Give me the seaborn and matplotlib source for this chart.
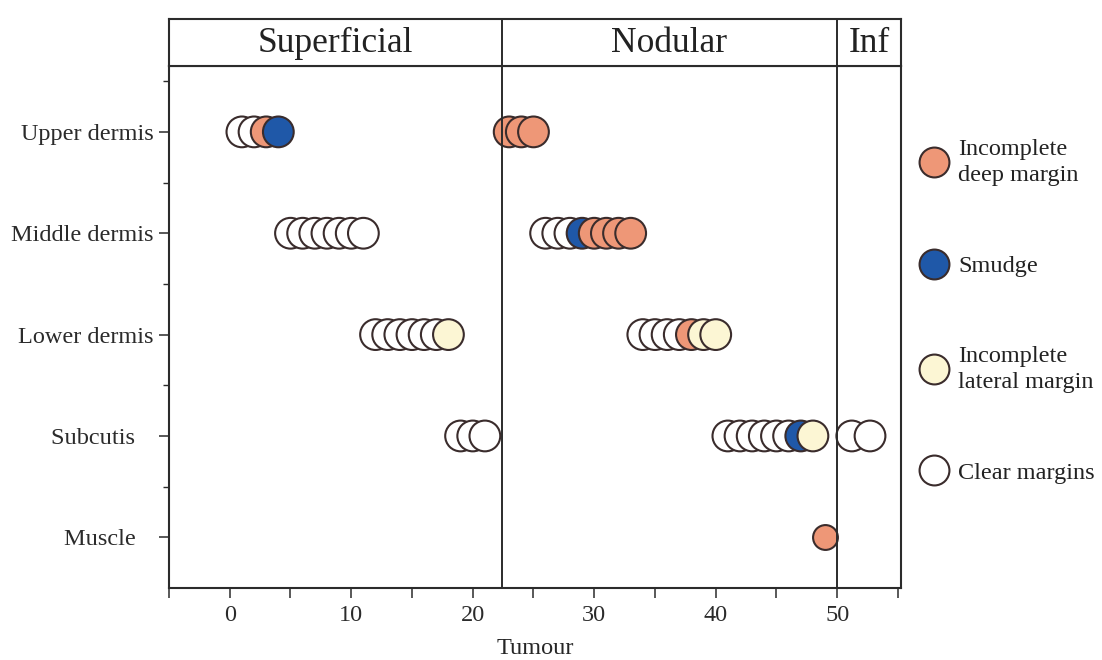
import matplotlib.pyplot as plt
import pandas as pd
import seaborn as sns
from matplotlib.lines import Line2D
from matplotlib.ticker import FixedLocator

# depth layers (top to bottom) and the y value each one gets
layers = ["Upper dermis", "Middle dermis", "Lower dermis", "Subcutis", "Muscle"]
layer_labels = ["Upper dermis", "Middle dermis", "Lower dermis", "Subcutis   ", "Muscle   "]
layer_y = [5, 4, 3, 2, 1]

# tumour index and margin status for every layer
upper_x = [1, 2, 3, 4, 23, 24, 25]
upper_status = ["clear", "clear", "deep", "smudge", "deep", "deep", "deep"]

middle_x = [5, 6, 7, 8, 9, 10, 11, 26, 27, 28, 29, 30, 31, 32, 33]
middle_status = ["clear"] * 7 + ["clear", "clear", "clear", "smudge", "deep", "deep", "deep", "deep"]

lower_x = [12, 13, 14, 15, 16, 17, 18, 34, 35, 36, 37, 38, 39, 40]
lower_status = ["clear"] * 6 + ["lateral"] + ["clear"] * 4 + ["deep", "lateral", "lateral"]

subcutis_x = [19, 20, 21, 41, 42, 43, 44, 45, 46, 47, 48, 51.2, 52.7]
subcutis_status = ["clear"] * 9 + ["smudge", "lateral", "clear", "clear"]

muscle_x = [49]
muscle_status = ["deep"]

# panels along the tumour axis
panel_names = ["Superficial", "Nodular", "Inf"]
panel_edges = [-5, 22.4, 50, 55.25]

status_order = ["deep", "smudge", "lateral", "clear"]
status_labels = ["Incomplete\ndeep margin", "Smudge", "Incomplete\nlateral margin", "Clear margins"]
status_colors = {"deep": "#EE9777", "smudge": "#1F58A8", "lateral": "#FCF6D4", "clear": "#FFFFFF"}

frames = []
for name, xs, st in [
    ("Upper dermis", upper_x, upper_status),
    ("Middle dermis", middle_x, middle_status),
    ("Lower dermis", lower_x, lower_status),
    ("Subcutis", subcutis_x, subcutis_status),
    ("Muscle", muscle_x, muscle_status),
]:
    frames.append(pd.DataFrame({"tumour": xs, "layer": name, "status": st}))
df = pd.concat(frames, ignore_index=True)
df["y"] = df["layer"].map(dict(zip(layers, layer_y)))
df = df.sort_values(["y", "tumour"]).reset_index(drop=True)

sns.set_style("ticks")
plt.rcParams["font.family"] = ["Liberation Serif", "DejaVu Serif"]
plt.rcParams["axes.edgecolor"] = "#2b2b2b"
plt.rcParams["xtick.color"] = "#2b2b2b"
plt.rcParams["ytick.color"] = "#2b2b2b"
plt.rcParams["text.color"] = "#222222"

fig = plt.figure(figsize=(11.02, 6.6), dpi=100)
ax = fig.add_axes([169 / 1102, 1 - 588 / 660, 732 / 1102, 522 / 660])
strip = fig.add_axes([169 / 1102, 1 - 66 / 660, 732 / 1102, 47 / 660])

big = df[df["layer"] != "Muscle"]
small = df[df["layer"] == "Muscle"]
sns.scatterplot(data=big, x="tumour", y="y", hue="status", palette=status_colors,
                s=490, edgecolor="#3a2c2c", linewidth=1.5, legend=False, ax=ax, zorder=3)
sns.scatterplot(data=small, x="tumour", y="y", hue="status", palette=status_colors,
                s=320, edgecolor="#3a2c2c", linewidth=1.5, legend=False, ax=ax, zorder=3)

ax.set_xlim(panel_edges[0], panel_edges[-1])
ax.set_ylim(0.5, 5.65)
for e in panel_edges[1:-1]:
    ax.axvline(e, color="#2b2b2b", lw=1.4, zorder=4)
    strip.axvline(e, color="#2b2b2b", lw=1.4)

ax.xaxis.set_major_locator(FixedLocator([0, 10, 20, 30, 40, 50]))
ax.xaxis.set_minor_locator(FixedLocator([-5, 5, 15, 25, 35, 45, 55]))
ax.set_yticks(layer_y)
ax.set_yticklabels(layer_labels)
ax.yaxis.set_minor_locator(FixedLocator([1.5, 2.5, 3.5, 4.5, 5.5]))
ax.tick_params(axis="x", which="both", length=7, width=1.1, labelsize=17.5, pad=5)
ax.tick_params(axis="y", which="major", length=7, width=1.1, labelsize=17.5, pad=4)
ax.tick_params(axis="y", which="minor", length=4, width=1.0)
ax.set_xlabel("Tumour", fontsize=17.5, labelpad=9)
ax.set_ylabel("")
for sp in ax.spines.values():
    sp.set_linewidth(1.5)

strip.set_xlim(panel_edges[0], panel_edges[-1])
strip.set_ylim(0, 1)
strip.set_xticks([])
strip.set_yticks([])
for sp in strip.spines.values():
    sp.set_linewidth(1.5)
for i, name in enumerate(panel_names):
    mid = (panel_edges[i] + panel_edges[i + 1]) / 2
    strip.text(mid, 0.48, name, ha="center", va="center", fontsize=25.5)

handles = [
    Line2D([], [], marker="o", linestyle="", markersize=21.5, markerfacecolor=status_colors[s],
           markeredgecolor="#3a2c2c", markeredgewidth=1.5)
    for s in status_order
]
leg = ax.legend(handles, status_labels, loc="upper left", bbox_to_anchor=(1.0, 0.893),
                frameon=False, fontsize=17.5, labelspacing=2.82, handlelength=1.3,
                handletextpad=0.35, borderaxespad=0.3)
for t in leg.get_texts():
    t.set_linespacing(1.35)

fig.savefig("out.png", dpi=100)
